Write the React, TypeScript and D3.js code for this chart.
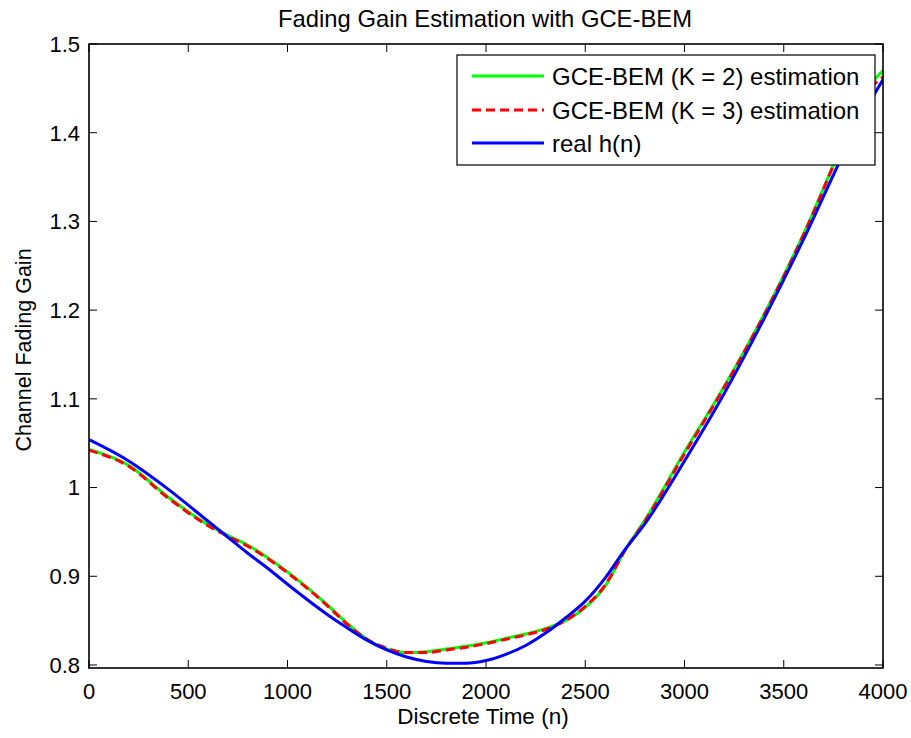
import React from "react";
import * as d3 from "d3";

const nValues = [0, 200, 400, 600, 700, 800, 900, 1000, 1200, 1300, 1400, 1500, 1600, 1700, 1800, 1900, 2000, 2100, 2200, 2300, 2400, 2500, 2600, 2700, 2800, 3000, 3200, 3400, 3600, 3800, 3900, 4000];

const realH = [1.054, 1.030, 0.998, 0.962, 0.944, 0.926, 0.909, 0.891, 0.857, 0.842, 0.828, 0.817, 0.809, 0.804, 0.802, 0.802, 0.805, 0.812, 0.822, 0.836, 0.853, 0.872, 0.898, 0.930, 0.959, 1.030, 1.106, 1.190, 1.280, 1.376, 1.421, 1.460];

const gceK3 = [1.042, 1.024, 0.988, 0.957, 0.945, 0.934, 0.920, 0.904, 0.867, 0.846, 0.829, 0.819, 0.814, 0.814, 0.817, 0.820, 0.824, 0.829, 0.834, 0.840, 0.850, 0.866, 0.890, 0.929, 0.962, 1.038, 1.113, 1.194, 1.285, 1.389, 1.439, 1.463];

const gceK2 = [1.043, 1.025, 0.989, 0.958, 0.946, 0.935, 0.921, 0.905, 0.868, 0.847, 0.829, 0.818, 0.814, 0.815, 0.818, 0.821, 0.825, 0.830, 0.835, 0.841, 0.850, 0.865, 0.889, 0.929, 0.963, 1.040, 1.114, 1.195, 1.286, 1.390, 1.442, 1.470];

const xTicks = [0, 500, 1000, 1500, 2000, 2500, 3000, 3500, 4000];
const yTicks = [0.8, 0.9, 1.0, 1.1, 1.2, 1.3, 1.4, 1.5];

const seriesNames = ["GCE-BEM (K = 2) estimation", "GCE-BEM (K = 3) estimation", "real h(n)"];
const seriesColors = ["#00ff00", "#ff0000", "#0000ff"];
const seriesDash = [null, "9,5", null];
const seriesData = [gceK2, gceK3, realH];

const W = 911;
const H = 738;
const left = 89, right = 883, top = 44, bottom = 668;
const font = "'Liberation Sans', Arial, Helvetica, sans-serif";

export default function App() {
  const x = d3.scaleLinear().domain([0, 4000]).range([left, right]);
  const y = d3.scaleLinear().domain([0.7966, 1.5]).range([bottom, top]);

  const line = (vals: number[]) =>
    d3
      .line<number>()
      .x((_, i) => x(nValues[i]))
      .y((d) => y(d))
      .curve(d3.curveMonotoneX)(vals) || "";

  const tickLen = 8;
  const fmtY = (v: number) => (Math.abs(v - 1) < 1e-9 ? "1" : d3.format(".1f")(v));

  const legX = 457, legY = 55, legW = 418, legH = 110;
  const rowY = [76, 110, 143];

  return (
    <svg width={W} height={H} style={{ position: "absolute", left: 0, top: 0, background: "#fff" }} fontFamily={font}>
      <rect x={0} y={0} width={W} height={H} fill="#fff" />
      <defs>
        <clipPath id="plotclip">
          <rect x={left} y={top} width={right - left} height={bottom - top} />
        </clipPath>
      </defs>
      <text x={(left + right) / 2 - 1} y={27} textAnchor="middle" fontSize={23.8} fill="#000">
        Fading Gain Estimation with GCE-BEM
      </text>

      {/* lines */}
      <g clipPath="url(#plotclip)">
        {seriesData.map((vals, i) => (
          <path
            key={i}
            d={line(vals)}
            fill="none"
            stroke={seriesColors[i]}
            strokeWidth={3}
            strokeDasharray={seriesDash[i] || undefined}
            strokeLinejoin="round"
          />
        ))}
      </g>

      {/* frame */}
      <rect x={left} y={top} width={right - left} height={bottom - top} fill="none" stroke="#000" strokeWidth={1.6} />

      {/* x ticks */}
      {xTicks.map((t) => (
        <g key={"x" + t}>
          <line x1={x(t)} x2={x(t)} y1={bottom} y2={bottom - tickLen} stroke="#000" strokeWidth={1} />
          <line x1={x(t)} x2={x(t)} y1={top} y2={top + tickLen} stroke="#000" strokeWidth={1} />
          <text x={x(t)} y={699} textAnchor="middle" fontSize={22} fill="#000">
            {t}
          </text>
        </g>
      ))}

      {/* y ticks */}
      {yTicks.map((t) => (
        <g key={"y" + t}>
          <line x1={left} x2={left + tickLen} y1={y(t)} y2={y(t)} stroke="#000" strokeWidth={1} />
          <line x1={right} x2={right - tickLen} y1={y(t)} y2={y(t)} stroke="#000" strokeWidth={1} />
          <text x={80} y={y(t)} dy="0.36em" textAnchor="end" fontSize={22} fill="#000">
            {fmtY(t)}
          </text>
        </g>
      ))}

      <text x={(left + right) / 2 - 3} y={724} textAnchor="middle" fontSize={22.5} fill="#000">
        Discrete Time (n)
      </text>
      <text transform={`translate(31,350) rotate(-90)`} textAnchor="middle" fontSize={21.5} fill="#000">
        Channel Fading Gain
      </text>

      {/* legend */}
      <rect x={legX} y={legY} width={legW} height={legH} fill="#fff" stroke="#000" strokeWidth={1.2} />
      {seriesNames.map((name, i) => (
        <g key={name}>
          <line
            x1={472}
            x2={544}
            y1={rowY[i]}
            y2={rowY[i]}
            stroke={seriesColors[i]}
            strokeWidth={3}
            strokeDasharray={seriesDash[i] || undefined}
          />
          <text x={552} y={rowY[i]} dy="0.36em" fontSize={24} fill="#000">
            {name}
          </text>
        </g>
      ))}
    </svg>
  );
}
